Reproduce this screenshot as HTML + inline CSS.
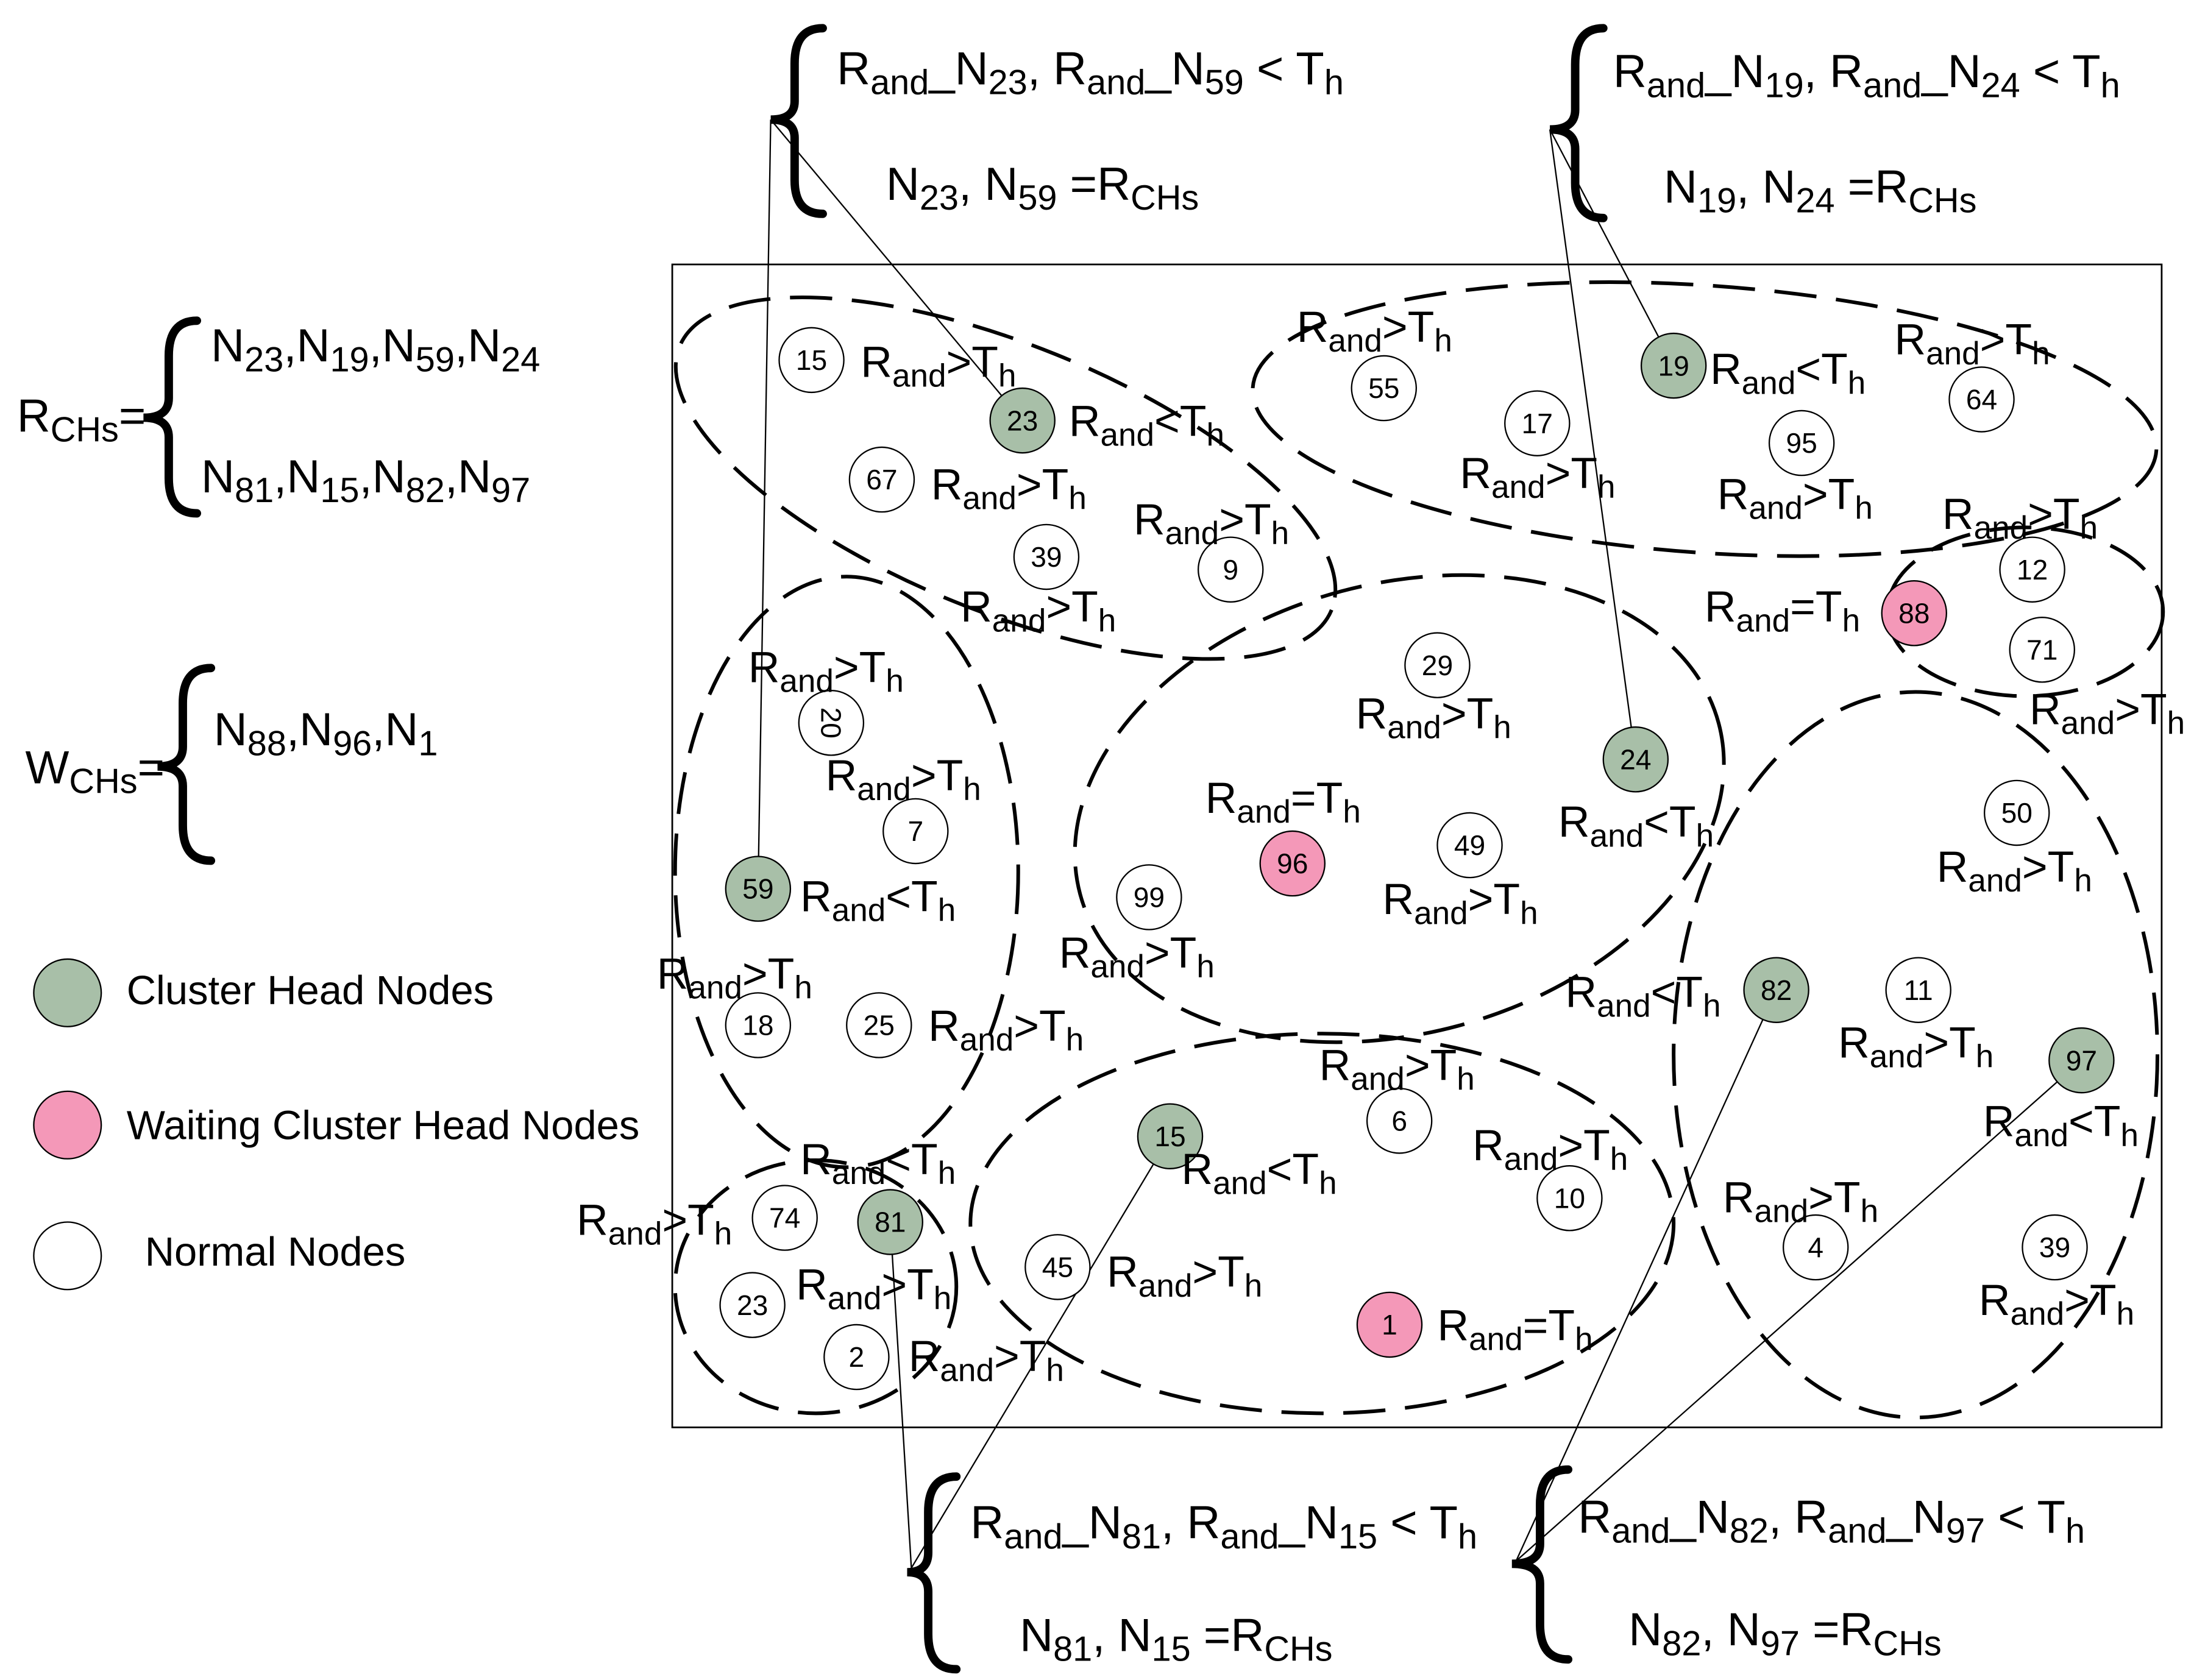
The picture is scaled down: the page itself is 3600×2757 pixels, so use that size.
<!DOCTYPE html>
<html><head><meta charset="utf-8"><style>
html,body{margin:0;padding:0;background:#fff}
svg{display:block}
text{font-family:"Liberation Sans",sans-serif;fill:#000}
.l{font-size:31px}
.s{font-size:23px}
.L{font-size:33px}
.S{font-size:25px}
.n{font-size:20px;text-anchor:middle}
.e{fill:none;stroke:#000;stroke-width:2.6;stroke-dasharray:30 14}
.c{stroke:#000;stroke-width:1}
.b{fill:none;stroke:#000;stroke-width:6;stroke-linecap:round}
.k{stroke:#000;stroke-width:1;fill:none}
</style></head><body>
<svg width="3600" height="2757" viewBox="0 0 1560 1194.6" xmlns="http://www.w3.org/2000/svg">
<rect x="0" y="0" width="1560" height="1195" fill="#fff"/>
<rect x="478" y="188" width="1059" height="827" fill="none" stroke="#000" stroke-width="1.2"/>

<line class="k" x1="548" y1="85" x2="727" y2="299"/>
<line class="k" x1="548" y1="85" x2="539" y2="632"/>
<line class="k" x1="1102" y1="92" x2="1190" y2="260"/>
<line class="k" x1="1102" y1="92" x2="1163" y2="540"/>
<line class="k" x1="648" y1="1115" x2="633" y2="869"/>
<line class="k" x1="648" y1="1115" x2="832" y2="808"/>
<line class="k" x1="1078" y1="1110" x2="1263" y2="704"/>
<line class="k" x1="1078" y1="1110" x2="1480" y2="754"/>

<ellipse class="e" cx="715" cy="340" rx="250" ry="95" transform="rotate(22 715 340)"/>
<ellipse class="e" cx="1212" cy="298" rx="322" ry="95" transform="rotate(4 1212 298)"/>
<ellipse class="e" cx="1440" cy="435" rx="98" ry="60"/>
<ellipse class="e" cx="602" cy="620" rx="122" ry="210"/>
<ellipse class="e" cx="995" cy="575" rx="235" ry="160" transform="rotate(-15 995 575)"/>
<ellipse class="e" cx="1362" cy="750" rx="172" ry="258"/>
<ellipse class="e" cx="940" cy="870" rx="250" ry="135"/>
<ellipse class="e" cx="580" cy="915" rx="100" ry="90"/>

<g class="b">
<path d="M585,20 Q565,20 565,45 L565,72 Q565,85 548,85 Q565,85 565,98 L565,128 Q565,152 585,152"/>
<path d="M1140,20 Q1120,20 1120,46 L1120,78 Q1120,92 1102,92 Q1120,92 1120,106 L1120,130 Q1120,155 1140,155"/>
<path d="M140,228 Q120,228 120,253 L120,283 Q120,297 102,297 Q120,297 120,311 L120,340 Q120,365 140,365"/>
<path d="M150,475 Q130,475 130,500 L130,531 Q130,545 112,545 Q130,545 130,559 L130,587 Q130,612 150,612"/>
<path d="M680,1050 Q660,1050 660,1075 L660,1104 Q660,1118 645,1118 Q660,1118 660,1132 L660,1162 Q660,1187 680,1187"/>
<path d="M1115,1045 Q1095,1045 1095,1070 L1095,1098 Q1095,1112 1075,1112 Q1095,1112 1095,1126 L1095,1155 Q1095,1180 1115,1180"/>
</g>

<g class="L">
<text x="595" y="60">R<tspan class="S" dy="7">and</tspan><tspan dy="-7">_N</tspan><tspan class="S" dy="7">23</tspan><tspan dy="-7">, R</tspan><tspan class="S" dy="7">and</tspan><tspan dy="-7">_N</tspan><tspan class="S" dy="7">59</tspan><tspan dy="-7"> &lt; T</tspan><tspan class="S" dy="7">h</tspan></text>
<text x="630" y="142">N<tspan class="S" dy="7">23</tspan><tspan dy="-7">, N</tspan><tspan class="S" dy="7">59</tspan><tspan dy="-7"> =R</tspan><tspan class="S" dy="7">CHs</tspan></text>
<text x="1147" y="62">R<tspan class="S" dy="7">and</tspan><tspan dy="-7">_N</tspan><tspan class="S" dy="7">19</tspan><tspan dy="-7">, R</tspan><tspan class="S" dy="7">and</tspan><tspan dy="-7">_N</tspan><tspan class="S" dy="7">24</tspan><tspan dy="-7"> &lt; T</tspan><tspan class="S" dy="7">h</tspan></text>
<text x="1183" y="144">N<tspan class="S" dy="7">19</tspan><tspan dy="-7">, N</tspan><tspan class="S" dy="7">24</tspan><tspan dy="-7"> =R</tspan><tspan class="S" dy="7">CHs</tspan></text>
<text x="690" y="1094">R<tspan class="S" dy="7">and</tspan><tspan dy="-7">_N</tspan><tspan class="S" dy="7">81</tspan><tspan dy="-7">, R</tspan><tspan class="S" dy="7">and</tspan><tspan dy="-7">_N</tspan><tspan class="S" dy="7">15</tspan><tspan dy="-7"> &lt; T</tspan><tspan class="S" dy="7">h</tspan></text>
<text x="725" y="1174">N<tspan class="S" dy="7">81</tspan><tspan dy="-7">, N</tspan><tspan class="S" dy="7">15</tspan><tspan dy="-7"> =R</tspan><tspan class="S" dy="7">CHs</tspan></text>
<text x="1122" y="1090">R<tspan class="S" dy="7">and</tspan><tspan dy="-7">_N</tspan><tspan class="S" dy="7">82</tspan><tspan dy="-7">, R</tspan><tspan class="S" dy="7">and</tspan><tspan dy="-7">_N</tspan><tspan class="S" dy="7">97</tspan><tspan dy="-7"> &lt; T</tspan><tspan class="S" dy="7">h</tspan></text>
<text x="1158" y="1170">N<tspan class="S" dy="7">82</tspan><tspan dy="-7">, N</tspan><tspan class="S" dy="7">97</tspan><tspan dy="-7"> =R</tspan><tspan class="S" dy="7">CHs</tspan></text>
<text x="12" y="307">R<tspan class="S" dy="7">CHs</tspan><tspan dy="-7">=</tspan></text>
<text x="150" y="257">N<tspan class="S" dy="7">23</tspan><tspan dy="-7">,N</tspan><tspan class="S" dy="7">19</tspan><tspan dy="-7">,N</tspan><tspan class="S" dy="7">59</tspan><tspan dy="-7">,N</tspan><tspan class="S" dy="7">24</tspan></text>
<text x="143" y="350">N<tspan class="S" dy="7">81</tspan><tspan dy="-7">,N</tspan><tspan class="S" dy="7">15</tspan><tspan dy="-7">,N</tspan><tspan class="S" dy="7">82</tspan><tspan dy="-7">,N</tspan><tspan class="S" dy="7">97</tspan></text>
<text x="18" y="557">W<tspan class="S" dy="7">CHs</tspan><tspan dy="-7">=</tspan></text>
<text x="152" y="530">N<tspan class="S" dy="7">88</tspan><tspan dy="-7">,N</tspan><tspan class="S" dy="7">96</tspan><tspan dy="-7">,N</tspan><tspan class="S" dy="7">1</tspan></text>
</g>

<circle cx="48" cy="706" r="24" fill="#a8bfa8" class="c"/>
<circle cx="48" cy="800" r="24" fill="#f498b8" class="c"/>
<circle cx="48" cy="893" r="24" fill="#fff" class="c"/>
<text x="90" y="714" style="font-size:29px">Cluster Head Nodes</text>
<text x="90" y="810" style="font-size:29px">Waiting Cluster Head Nodes</text>
<text x="103" y="900" style="font-size:29px">Normal Nodes</text>

<g>
<circle cx="577" cy="256" r="23" fill="#fff" class="c"/><text class="n" x="577" y="263">15</text>
<circle cx="727" cy="299" r="23" fill="#a8bfa8" class="c"/><text class="n" x="727" y="306">23</text>
<circle cx="627" cy="341" r="23" fill="#fff" class="c"/><text class="n" x="627" y="348">67</text>
<circle cx="744" cy="396" r="23" fill="#fff" class="c"/><text class="n" x="744" y="403">39</text>
<circle cx="875" cy="405" r="23" fill="#fff" class="c"/><text class="n" x="875" y="412">9</text>
<circle cx="984" cy="276" r="23" fill="#fff" class="c"/><text class="n" x="984" y="283">55</text>
<circle cx="1093" cy="301" r="23" fill="#fff" class="c"/><text class="n" x="1093" y="308">17</text>
<circle cx="1190" cy="260" r="23" fill="#a8bfa8" class="c"/><text class="n" x="1190" y="267">19</text>
<circle cx="1281" cy="315" r="23" fill="#fff" class="c"/><text class="n" x="1281" y="322">95</text>
<circle cx="1409" cy="284" r="23" fill="#fff" class="c"/><text class="n" x="1409" y="291">64</text>
<circle cx="1445" cy="405" r="23" fill="#fff" class="c"/><text class="n" x="1445" y="412">12</text>
<circle cx="1361" cy="436" r="23" fill="#f498b8" class="c"/><text class="n" x="1361" y="443">88</text>
<circle cx="1452" cy="462" r="23" fill="#fff" class="c"/><text class="n" x="1452" y="469">71</text>
<circle cx="1022" cy="473" r="23" fill="#fff" class="c"/><text class="n" x="1022" y="480">29</text>
<circle cx="591" cy="514" r="23" fill="#fff" class="c"/><text class="n" x="0" y="0" transform="translate(584 514) rotate(90)">20</text>
<circle cx="651" cy="591" r="23" fill="#fff" class="c"/><text class="n" x="651" y="598">7</text>
<circle cx="539" cy="632" r="23" fill="#a8bfa8" class="c"/><text class="n" x="539" y="639">59</text>
<circle cx="1163" cy="540" r="23" fill="#a8bfa8" class="c"/><text class="n" x="1163" y="547">24</text>
<circle cx="919" cy="614" r="23" fill="#f498b8" class="c"/><text class="n" x="919" y="621">96</text>
<circle cx="1045" cy="601" r="23" fill="#fff" class="c"/><text class="n" x="1045" y="608">49</text>
<circle cx="817" cy="638" r="23" fill="#fff" class="c"/><text class="n" x="817" y="645">99</text>
<circle cx="1434" cy="578" r="23" fill="#fff" class="c"/><text class="n" x="1434" y="585">50</text>
<circle cx="539" cy="729" r="23" fill="#fff" class="c"/><text class="n" x="539" y="736">18</text>
<circle cx="625" cy="729" r="23" fill="#fff" class="c"/><text class="n" x="625" y="736">25</text>
<circle cx="1263" cy="704" r="23" fill="#a8bfa8" class="c"/><text class="n" x="1263" y="711">82</text>
<circle cx="1364" cy="704" r="23" fill="#fff" class="c"/><text class="n" x="1364" y="711">11</text>
<circle cx="1480" cy="754" r="23" fill="#a8bfa8" class="c"/><text class="n" x="1480" y="761">97</text>
<circle cx="995" cy="797" r="23" fill="#fff" class="c"/><text class="n" x="995" y="804">6</text>
<circle cx="832" cy="808" r="23" fill="#a8bfa8" class="c"/><text class="n" x="832" y="815">15</text>
<circle cx="1116" cy="852" r="23" fill="#fff" class="c"/><text class="n" x="1116" y="859">10</text>
<circle cx="558" cy="866" r="23" fill="#fff" class="c"/><text class="n" x="558" y="873">74</text>
<circle cx="633" cy="869" r="23" fill="#a8bfa8" class="c"/><text class="n" x="633" y="876">81</text>
<circle cx="1291" cy="887" r="23" fill="#fff" class="c"/><text class="n" x="1291" y="894">4</text>
<circle cx="1461" cy="887" r="23" fill="#fff" class="c"/><text class="n" x="1461" y="894">39</text>
<circle cx="752" cy="901" r="23" fill="#fff" class="c"/><text class="n" x="752" y="908">45</text>
<circle cx="535" cy="928" r="23" fill="#fff" class="c"/><text class="n" x="535" y="935">23</text>
<circle cx="609" cy="965" r="23" fill="#fff" class="c"/><text class="n" x="609" y="972">2</text>
<circle cx="988" cy="942" r="23" fill="#f498b8" class="c"/><text class="n" x="988" y="949">1</text>
</g>

<g class="l">
<text x="612" y="268">R<tspan class="s" dy="7">and</tspan><tspan dy="-7">&gt;T</tspan><tspan class="s" dy="7">h</tspan></text>
<text x="760" y="310">R<tspan class="s" dy="7">and</tspan><tspan dy="-7">&lt;T</tspan><tspan class="s" dy="7">h</tspan></text>
<text x="662" y="355">R<tspan class="s" dy="7">and</tspan><tspan dy="-7">&gt;T</tspan><tspan class="s" dy="7">h</tspan></text>
<text x="806" y="380">R<tspan class="s" dy="7">and</tspan><tspan dy="-7">&gt;T</tspan><tspan class="s" dy="7">h</tspan></text>
<text x="683" y="442">R<tspan class="s" dy="7">and</tspan><tspan dy="-7">&gt;T</tspan><tspan class="s" dy="7">h</tspan></text>
<text x="922" y="243">R<tspan class="s" dy="7">and</tspan><tspan dy="-7">&gt;T</tspan><tspan class="s" dy="7">h</tspan></text>
<text x="1038" y="347">R<tspan class="s" dy="7">and</tspan><tspan dy="-7">&gt;T</tspan><tspan class="s" dy="7">h</tspan></text>
<text x="1216" y="273">R<tspan class="s" dy="7">and</tspan><tspan dy="-7">&lt;T</tspan><tspan class="s" dy="7">h</tspan></text>
<text x="1347" y="252">R<tspan class="s" dy="7">and</tspan><tspan dy="-7">&gt;T</tspan><tspan class="s" dy="7">h</tspan></text>
<text x="1221" y="362">R<tspan class="s" dy="7">and</tspan><tspan dy="-7">&gt;T</tspan><tspan class="s" dy="7">h</tspan></text>
<text x="1381" y="376">R<tspan class="s" dy="7">and</tspan><tspan dy="-7">&gt;T</tspan><tspan class="s" dy="7">h</tspan></text>
<text x="1212" y="442">R<tspan class="s" dy="7">and</tspan><tspan dy="-7">=T</tspan><tspan class="s" dy="7">h</tspan></text>
<text x="1443" y="515">R<tspan class="s" dy="7">and</tspan><tspan dy="-7">&gt;T</tspan><tspan class="s" dy="7">h</tspan></text>
<text x="532" y="485">R<tspan class="s" dy="7">and</tspan><tspan dy="-7">&gt;T</tspan><tspan class="s" dy="7">h</tspan></text>
<text x="964" y="518">R<tspan class="s" dy="7">and</tspan><tspan dy="-7">&gt;T</tspan><tspan class="s" dy="7">h</tspan></text>
<text x="587" y="562">R<tspan class="s" dy="7">and</tspan><tspan dy="-7">&gt;T</tspan><tspan class="s" dy="7">h</tspan></text>
<text x="857" y="578">R<tspan class="s" dy="7">and</tspan><tspan dy="-7">=T</tspan><tspan class="s" dy="7">h</tspan></text>
<text x="1108" y="595">R<tspan class="s" dy="7">and</tspan><tspan dy="-7">&lt;T</tspan><tspan class="s" dy="7">h</tspan></text>
<text x="569" y="648">R<tspan class="s" dy="7">and</tspan><tspan dy="-7">&lt;T</tspan><tspan class="s" dy="7">h</tspan></text>
<text x="983" y="650">R<tspan class="s" dy="7">and</tspan><tspan dy="-7">&gt;T</tspan><tspan class="s" dy="7">h</tspan></text>
<text x="1377" y="627">R<tspan class="s" dy="7">and</tspan><tspan dy="-7">&gt;T</tspan><tspan class="s" dy="7">h</tspan></text>
<text x="753" y="688">R<tspan class="s" dy="7">and</tspan><tspan dy="-7">&gt;T</tspan><tspan class="s" dy="7">h</tspan></text>
<text x="467" y="703">R<tspan class="s" dy="7">and</tspan><tspan dy="-7">&gt;T</tspan><tspan class="s" dy="7">h</tspan></text>
<text x="1113" y="716">R<tspan class="s" dy="7">and</tspan><tspan dy="-7">&lt;T</tspan><tspan class="s" dy="7">h</tspan></text>
<text x="660" y="740">R<tspan class="s" dy="7">and</tspan><tspan dy="-7">&gt;T</tspan><tspan class="s" dy="7">h</tspan></text>
<text x="1307" y="752">R<tspan class="s" dy="7">and</tspan><tspan dy="-7">&gt;T</tspan><tspan class="s" dy="7">h</tspan></text>
<text x="938" y="768">R<tspan class="s" dy="7">and</tspan><tspan dy="-7">&gt;T</tspan><tspan class="s" dy="7">h</tspan></text>
<text x="1410" y="808">R<tspan class="s" dy="7">and</tspan><tspan dy="-7">&lt;T</tspan><tspan class="s" dy="7">h</tspan></text>
<text x="1047" y="825">R<tspan class="s" dy="7">and</tspan><tspan dy="-7">&gt;T</tspan><tspan class="s" dy="7">h</tspan></text>
<text x="569" y="835">R<tspan class="s" dy="7">and</tspan><tspan dy="-7">&lt;T</tspan><tspan class="s" dy="7">h</tspan></text>
<text x="840" y="842">R<tspan class="s" dy="7">and</tspan><tspan dy="-7">&lt;T</tspan><tspan class="s" dy="7">h</tspan></text>
<text x="1225" y="862">R<tspan class="s" dy="7">and</tspan><tspan dy="-7">&gt;T</tspan><tspan class="s" dy="7">h</tspan></text>
<text x="410" y="878">R<tspan class="s" dy="7">and</tspan><tspan dy="-7">&gt;T</tspan><tspan class="s" dy="7">h</tspan></text>
<text x="566" y="924">R<tspan class="s" dy="7">and</tspan><tspan dy="-7">&gt;T</tspan><tspan class="s" dy="7">h</tspan></text>
<text x="787" y="915">R<tspan class="s" dy="7">and</tspan><tspan dy="-7">&gt;T</tspan><tspan class="s" dy="7">h</tspan></text>
<text x="1022" y="953">R<tspan class="s" dy="7">and</tspan><tspan dy="-7">=T</tspan><tspan class="s" dy="7">h</tspan></text>
<text x="646" y="975">R<tspan class="s" dy="7">and</tspan><tspan dy="-7">&gt;T</tspan><tspan class="s" dy="7">h</tspan></text>
<text x="1407" y="935">R<tspan class="s" dy="7">and</tspan><tspan dy="-7">&gt;T</tspan><tspan class="s" dy="7">h</tspan></text>
</g>
</svg>
</body></html>
